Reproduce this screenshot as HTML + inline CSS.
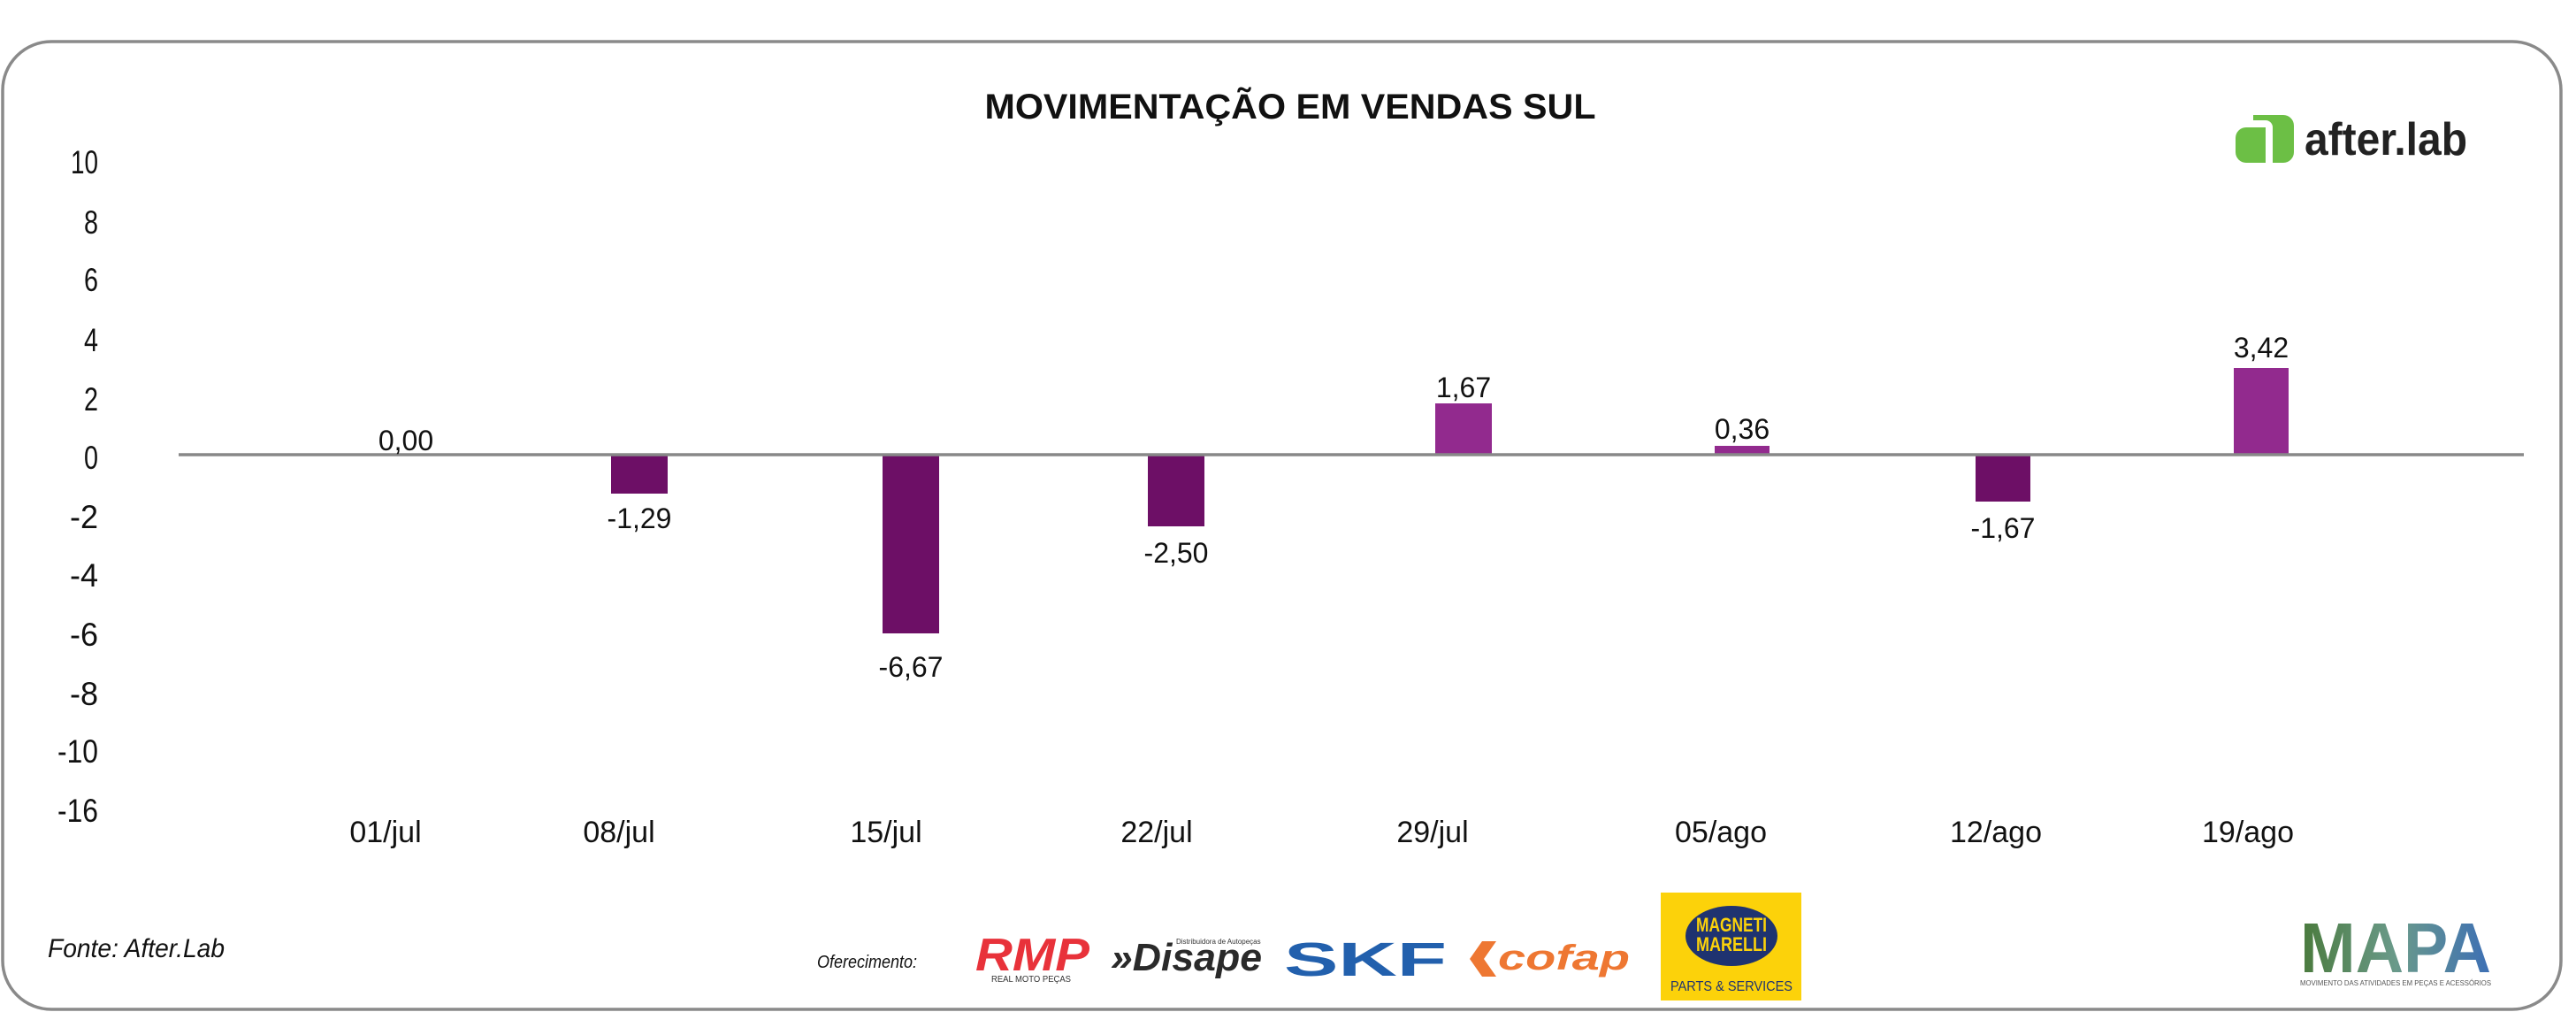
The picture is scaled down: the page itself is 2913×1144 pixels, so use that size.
<!DOCTYPE html>
<html><head><meta charset="utf-8"><style>
html,body{margin:0;padding:0;background:#fff;}
svg{display:block;}
.n{font-family:"Liberation Sans Narrow","Liberation Sans",sans-serif;}
</style></head><body>
<svg width="2913" height="1144" viewBox="0 0 2913 1144" xmlns="http://www.w3.org/2000/svg">
<rect x="3" y="47" width="2893" height="1094" rx="55" ry="55" fill="#fff" stroke="#8a8a8a" stroke-width="3.5"/>
<text x="1459" y="134" text-anchor="middle" font-family="Liberation Sans Narrow, Liberation Sans, sans-serif" font-weight="bold" font-size="40" fill="#111" textLength="691" lengthAdjust="spacingAndGlyphs">MOVIMENTAÇÃO EM VENDAS SUL</text>
<!-- after.lab logo -->
<path d="M2548,130 h34 a12,12 0 0 1 12,12 v30 a12,12 0 0 1 -12,12 h-12 v-40 a8,8 0 0 0 -8,-8 h-14 z" fill="#6cbf45"/>
<path d="M2546,144 h16 v40 h-22 a12,12 0 0 1 -12,-12 v-16 a12,12 0 0 1 12,-12 z" fill="#6cbf45"/>
<text x="2606" y="175" font-family="Liberation Sans Narrow, Liberation Sans, sans-serif" font-weight="bold" font-size="52" fill="#222" textLength="184" lengthAdjust="spacingAndGlyphs">after.lab</text>
<!-- y labels -->
<g class="n" font-size="37" fill="#111" text-anchor="end">
<text x="111" y="196" textLength="31" lengthAdjust="spacingAndGlyphs">10</text>
<text x="111" y="264" textLength="16" lengthAdjust="spacingAndGlyphs">8</text>
<text x="111" y="329" textLength="16" lengthAdjust="spacingAndGlyphs">6</text>
<text x="111" y="397" textLength="16" lengthAdjust="spacingAndGlyphs">4</text>
<text x="111" y="464" textLength="16" lengthAdjust="spacingAndGlyphs">2</text>
<text x="111" y="530" textLength="16" lengthAdjust="spacingAndGlyphs">0</text>
<text x="111" y="597" textLength="32" lengthAdjust="spacingAndGlyphs">-2</text>
<text x="111" y="663" textLength="32" lengthAdjust="spacingAndGlyphs">-4</text>
<text x="111" y="730" textLength="32" lengthAdjust="spacingAndGlyphs">-6</text>
<text x="111" y="797" textLength="32" lengthAdjust="spacingAndGlyphs">-8</text>
<text x="111" y="862" textLength="46" lengthAdjust="spacingAndGlyphs">-10</text>
<text x="111" y="929" textLength="46" lengthAdjust="spacingAndGlyphs">-16</text>
</g>
<!-- bars -->
<rect x="691" y="515" width="64" height="43" fill="#6d0f66"/>
<rect x="998" y="515" width="64" height="201" fill="#6d0f66"/>
<rect x="1298" y="515" width="64" height="80" fill="#6d0f66"/>
<rect x="1623" y="456" width="64" height="58" fill="#922a8e"/>
<rect x="1939" y="504" width="62" height="10" fill="#922a8e"/>
<rect x="2234" y="515" width="62" height="52" fill="#6d0f66"/>
<rect x="2526" y="416" width="62" height="98" fill="#922a8e"/>
<line x1="202" y1="514" x2="2854" y2="514" stroke="#888" stroke-width="3.5"/>
<!-- data labels -->
<g class="n" font-size="32" fill="#111" text-anchor="middle">
<text x="459" y="509">0,00</text>
<text x="723" y="597">-1,29</text>
<text x="1030" y="765">-6,67</text>
<text x="1330" y="636">-2,50</text>
<text x="1655" y="449">1,67</text>
<text x="1970" y="496">0,36</text>
<text x="2265" y="608">-1,67</text>
<text x="2557" y="404">3,42</text>
</g>
<!-- x labels -->
<g class="n" font-size="34" fill="#111" text-anchor="middle">
<text x="436" y="952">01/jul</text>
<text x="700" y="952">08/jul</text>
<text x="1002" y="952">15/jul</text>
<text x="1308" y="952">22/jul</text>
<text x="1620" y="952">29/jul</text>
<text x="1946" y="952">05/ago</text>
<text x="2257" y="952">12/ago</text>
<text x="2542" y="952">19/ago</text>
</g>
<text x="54" y="1082" class="n" font-style="italic" font-size="30" fill="#111" textLength="200" lengthAdjust="spacingAndGlyphs">Fonte: After.Lab</text>
<text x="924" y="1094" class="n" font-style="italic" font-size="20" fill="#111" textLength="113" lengthAdjust="spacingAndGlyphs">Oferecimento:</text>
<!-- RMP -->
<text x="1103" y="1097" font-family="Liberation Sans, sans-serif" font-weight="bold" font-style="italic" font-size="52" fill="#e8323a" textLength="129" lengthAdjust="spacingAndGlyphs">RMP</text>
<text x="1121" y="1110" font-family="Liberation Sans, sans-serif" font-size="10" fill="#333" textLength="90" lengthAdjust="spacingAndGlyphs">REAL MOTO PEÇAS</text>
<!-- Disape -->
<text x="1330" y="1067" font-family="Liberation Sans, sans-serif" font-size="8" fill="#333">Distribuidora de Autopeças</text>
<text x="1256" y="1097" font-family="Liberation Sans, sans-serif" font-weight="bold" font-style="italic" font-size="44" fill="#2a2a2a" textLength="171" lengthAdjust="spacingAndGlyphs">»Disape</text>
<!-- SKF -->
<text x="1452" y="1103" font-family="Liberation Sans, sans-serif" font-weight="bold" font-size="54" fill="#2260ad" textLength="184" lengthAdjust="spacingAndGlyphs">SKF</text>
<!-- cofap -->
<path d="M1662,1084 l14,-20 h16 l-14,20 l14,20 h-16 z" fill="#ee7732"/>
<text x="1694" y="1096" font-family="Liberation Sans, sans-serif" font-weight="bold" font-style="italic" font-size="40" fill="#ee7732" textLength="149" lengthAdjust="spacingAndGlyphs">cofap</text>
<!-- Magneti Marelli -->
<rect x="1878" y="1009" width="159" height="122" fill="#fcd20a"/>
<ellipse cx="1958" cy="1058" rx="52" ry="34" fill="#1f3370"/>
<text x="1958" y="1053" text-anchor="middle" font-family="Liberation Sans Narrow, Liberation Sans, sans-serif" font-weight="bold" font-size="22" fill="#fcd20a" textLength="80" lengthAdjust="spacingAndGlyphs">MAGNETI</text>
<text x="1958" y="1075" text-anchor="middle" font-family="Liberation Sans Narrow, Liberation Sans, sans-serif" font-weight="bold" font-size="22" fill="#fcd20a" textLength="80" lengthAdjust="spacingAndGlyphs">MARELLI</text>
<text x="1958" y="1120" text-anchor="middle" font-family="Liberation Sans Narrow, Liberation Sans, sans-serif" font-size="16" fill="#1f3370" textLength="138" lengthAdjust="spacingAndGlyphs">PARTS &amp; SERVICES</text>
<!-- MAPA -->
<defs><linearGradient id="mg" x1="0" x2="1" y1="0" y2="0"><stop offset="0" stop-color="#4a7a3c"/><stop offset="0.5" stop-color="#6a9a8a"/><stop offset="1" stop-color="#3d6fb5"/></linearGradient></defs>
<text x="2601" y="1099" font-family="Liberation Sans Narrow, Liberation Sans, sans-serif" font-weight="bold" font-size="80" fill="url(#mg)" textLength="216" lengthAdjust="spacingAndGlyphs">MAPA</text>
<text x="2601" y="1114" font-family="Liberation Sans Narrow, Liberation Sans, sans-serif" font-size="8" fill="#555" textLength="216" lengthAdjust="spacingAndGlyphs">MOVIMENTO DAS ATIVIDADES EM PEÇAS E ACESSÓRIOS</text>
</svg>
</body></html>
